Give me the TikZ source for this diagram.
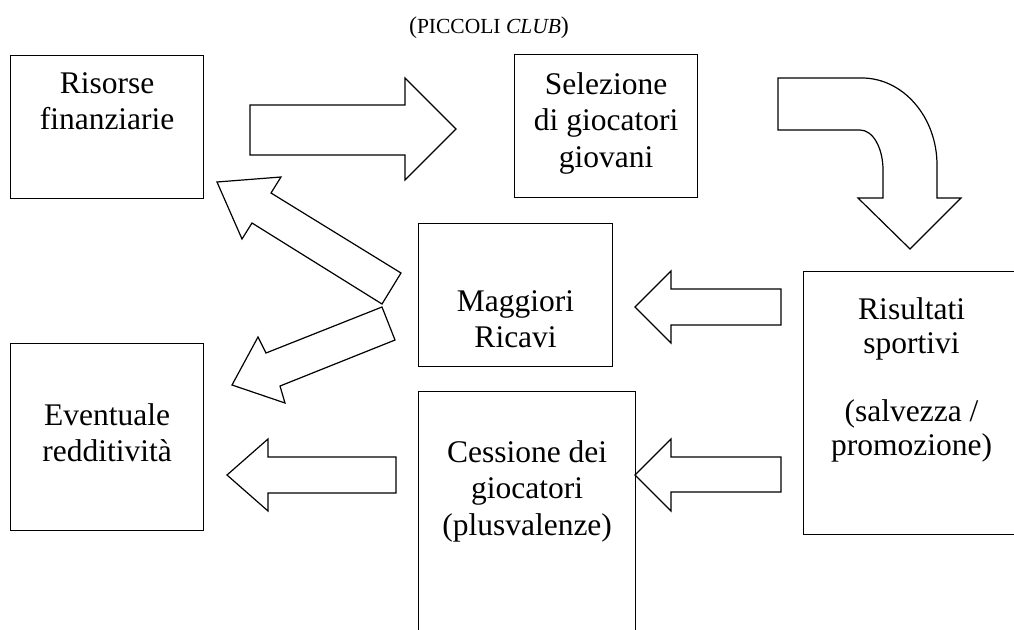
\documentclass[tikz,border=0pt]{standalone}
\usepackage{fontspec}
\setmainfont{Liberation Serif}
\usetikzlibrary{positioning}

\begin{document}
\begin{tikzpicture}[x=1pt, y=-1pt]

    % --- Global Settings ---
    \tikzset{
        boxframe/.style={draw, line width=1.2pt, inner sep=0pt, anchor=north west},
        boxtext/.style={align=center, inner sep=0pt, font=\fontsize{31.5}{36.5}\selectfont},
        blockarrow/.style={draw, line width=1.2pt, line join=miter, fill=white}
    }

    \useasboundingbox (0,0) rectangle (1014,629);
    \clip (0,0) rectangle (1014,629);

    % --- Title ---
    \node[anchor=base, inner sep=0pt] (titolo) at (489,33)
        {{\fontsize{24}{28}\selectfont(}{\fontsize{21.5}{26}\selectfont PICCOLI \textit{CLUB}}{\fontsize{24}{28}\selectfont)}};

    % --- Boxes ---
    \node[boxframe, minimum width=193pt, minimum height=143pt] (risorse) at (10,55) {};
    \node[boxframe, minimum width=183pt, minimum height=143pt] (selezione) at (514,54) {};
    \node[boxframe, minimum width=194pt, minimum height=143pt] (maggiori) at (418,223) {};
    \node[boxframe, minimum width=216pt, minimum height=263pt] (risultati) at (803,271) {};
    \node[boxframe, minimum width=193pt, minimum height=187pt] (eventuale) at (10,343) {};
    \node[boxframe, minimum width=217pt, minimum height=260pt] (cessione) at (418,391) {};

    % --- Box texts ---
    \node[boxtext, below=17pt of risorse.north] (risorseTxt) {Risorse\\finanziarie};
    \node[boxtext, below=18pt of selezione.north] (selezioneTxt) {Selezione\\di giocatori\\giovani};
    \node[boxtext, below=67pt of maggiori.north] (maggioriTxt) {Maggiori\\Ricavi};
    \node[boxtext, font=\fontsize{31.5}{34}\selectfont, below=26pt of risultati.north] (risultatiTxt)
        {Risultati\\sportivi\\[34pt](salvezza /\\promozione)};
    \node[boxtext, below=60pt of eventuale.north] (eventualeTxt) {Eventuale\\redditività};
    \node[boxtext, below=49pt of cessione.north] (cessioneTxt) {Cessione dei\\giocatori\\(plusvalenze)};

    % --- Block arrows ---
    % risorse -> selezione
    \draw[blockarrow] (250,105) -- (405,105) -- (405,78) -- (456,129) -- (405,180) -- (405,155) -- (250,155) -- cycle;

    % selezione -> risultati (bent)
    \draw[blockarrow] (778,78) -- (862,78) .. controls (903,78) and (937,117) .. (937,165)
        -- (937,198) -- (961,198) -- (910,249) -- (858,198) -- (883,198) -- (883,170)
        .. controls (883,148) and (873,130) .. (860,130) -- (778,130) -- cycle;

    % risultati -> maggiori, risultati -> cessione
    \draw[blockarrow] (781,289) -- (671,289) -- (671,271) -- (635,307) -- (671,343) -- (671,325) -- (781,325) -- cycle;
    \draw[blockarrow] (781,457) -- (671,457) -- (671,439) -- (635,475) -- (671,511) -- (671,492) -- (781,492) -- cycle;

    % cessione -> eventuale
    \draw[blockarrow] (396,457) -- (268,457) -- (268,439) -- (227,475) -- (268,511) -- (268,493) -- (396,493) -- cycle;

    % maggiori -> risorse, maggiori -> eventuale
    \draw[blockarrow] (401,273) -- (271,193) -- (281,177) -- (217,182) -- (242,239) -- (252,223) -- (382,304) -- cycle;
    \draw[blockarrow] (382,307) -- (395,340) -- (280,386) -- (285,403) -- (232,385) -- (258,337) -- (266,353) -- cycle;

\end{tikzpicture}
\end{document}
